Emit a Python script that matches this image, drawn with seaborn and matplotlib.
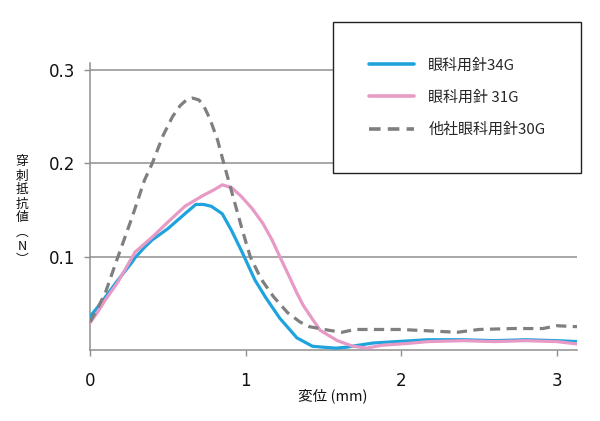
import matplotlib
matplotlib.use("Agg")
import matplotlib.pyplot as plt
import seaborn as sns
import pandas as pd

# ---- data ----
series_names = ["眼科用針34G", "眼科用針 31G", "他社眼科用針30G"]

x_34g = [0, 0.05, 0.10, 0.18, 0.27, 0.29, 0.35, 0.40, 0.50, 0.61, 0.68, 0.73, 0.78,
         0.85, 0.91, 0.98, 1.06, 1.13, 1.22, 1.33, 1.43, 1.50, 1.58, 1.65, 1.72, 1.82,
         1.97, 2.17, 2.40, 2.60, 2.80, 3.00, 3.13]
y_34g = [0.036, 0.046, 0.057, 0.075, 0.094, 0.099, 0.110, 0.118, 0.130, 0.146, 0.156,
         0.156, 0.154, 0.146, 0.128, 0.104, 0.075, 0.056, 0.034, 0.013, 0.004, 0.003,
         0.002, 0.003, 0.005, 0.0075, 0.009, 0.011, 0.011, 0.010, 0.011, 0.010, 0.009]

x_31g = [0, 0.05, 0.10, 0.18, 0.29, 0.40, 0.50, 0.61, 0.72, 0.80, 0.85, 0.91, 0.97,
         1.04, 1.11, 1.17, 1.22, 1.28, 1.33, 1.37, 1.43, 1.48, 1.59, 1.69, 1.78, 1.87,
         2.04, 2.17, 2.40, 2.60, 2.80, 3.00, 3.13]
y_31g = [0.029, 0.041, 0.054, 0.073, 0.105, 0.121, 0.137, 0.154, 0.165, 0.172, 0.177,
         0.174, 0.165, 0.152, 0.136, 0.118, 0.100, 0.079, 0.061, 0.048, 0.033, 0.021,
         0.010, 0.004, 0.002, 0.005, 0.007, 0.009, 0.010, 0.009, 0.010, 0.009, 0.0065]

x_30g = [0, 0.05, 0.10, 0.18, 0.27, 0.35, 0.40, 0.47, 0.53, 0.58, 0.62, 0.66, 0.70,
         0.73, 0.77, 0.82, 0.86, 0.92, 0.98, 1.03, 1.10, 1.18, 1.27, 1.35, 1.41, 1.54,
         1.62, 1.70, 2.00, 2.36, 2.50, 2.72, 2.91, 3.00, 3.13]
y_30g = [0.030, 0.045, 0.062, 0.100, 0.142, 0.182, 0.200, 0.230, 0.250, 0.262, 0.268,
         0.270, 0.268, 0.262, 0.248, 0.225, 0.200, 0.164, 0.128, 0.100, 0.076, 0.057,
         0.040, 0.030, 0.025, 0.021, 0.019, 0.022, 0.022, 0.019, 0.022, 0.023, 0.023,
         0.026, 0.025]

x_ticks = [0, 1, 2, 3]
y_ticks = [0.1, 0.2, 0.3]
y_tick_labels = ["0.1", "0.2", "0.3"]
x_label = "変位 (mm)"
y_label = "穿刺抵抗値︵N︶"

# ---- build long table ----
frames = []
for name, xs, ys in zip(series_names, [x_34g, x_31g, x_30g], [y_34g, y_31g, y_30g]):
    frames.append(pd.DataFrame({"x": xs, "y": ys, "series": name}))
df = pd.concat(frames, ignore_index=True)

sns.set_theme(style="white")
plt.rcParams["font.family"] = ["Noto Sans CJK JP", "DejaVu Sans"]

fig = plt.figure(figsize=(6.0, 4.21), dpi=100)
ax = fig.add_axes([90 / 600, 71 / 421, 487 / 600, 287 / 421])

palette = {series_names[0]: "#1FA3DD", series_names[1]: "#E79AC6", series_names[2]: "#7F7F7F"}
dashes = {series_names[0]: "", series_names[1]: "", series_names[2]: (3.2, 2.0)}

sns.lineplot(data=df, x="x", y="y", hue="series", style="series",
             palette=palette, dashes=dashes, hue_order=series_names,
             style_order=series_names, estimator=None, sort=False,
             linewidth=2.3, ax=ax, zorder=3)

ax.set_xlim(0, 3.13)
ax.set_ylim(0, 0.3076)
ax.set_xticks(x_ticks)
ax.set_yticks(y_ticks)
ax.set_yticklabels(y_tick_labels)
ax.set_xlabel("")
ax.set_ylabel("")

gcol = "#8f8f8f"
ax.yaxis.grid(True, color=gcol, linewidth=1.1, zorder=0)
ax.xaxis.grid(False)
ax.set_axisbelow(True)
for s in ["top", "right"]:
    ax.spines[s].set_visible(False)
for s in ["left", "bottom"]:
    ax.spines[s].set_color(gcol)
    ax.spines[s].set_linewidth(1.1)

ax.tick_params(axis="y", which="both", left=True, length=4.5, width=1.0, color=gcol,
               pad=6, labelsize=12, labelcolor="#111111")
ax.tick_params(axis="x", which="both", bottom=True, length=4, width=1.0, color=gcol,
               pad=12, labelsize=12, labelcolor="#111111")
for lbl in ax.get_xticklabels() + ax.get_yticklabels():
    lbl.set_family(["DejaVu Sans"])

fig.text(333 / 600, 1 - 396 / 421, x_label, ha="center", va="center",
         fontsize=10.5, color="#111111")
fig.text(22 / 600, 1 - 211 / 421, "\n".join(list(y_label)), ha="center", va="center",
         fontsize=9.2, linespacing=1.1, color="#111111")

leg = ax.legend(loc="upper left", bbox_to_anchor=(333 / 600, 1 - 22 / 421),
                bbox_transform=fig.transFigure, borderaxespad=0, frameon=True,
                fancybox=False, shadow=False, framealpha=1, fontsize=10.8,
                borderpad=2.4, labelspacing=1.2, handlelength=3.0,
                handletextpad=0.95, title=None)
leg.get_frame().set_edgecolor("#222222")
leg.get_frame().set_linewidth(1.0)
leg.get_frame().set_facecolor("white")
leg.set_zorder(5)
for line in leg.get_lines():
    line.set_linewidth(2.6)

fig.savefig("out.png", dpi=100)
